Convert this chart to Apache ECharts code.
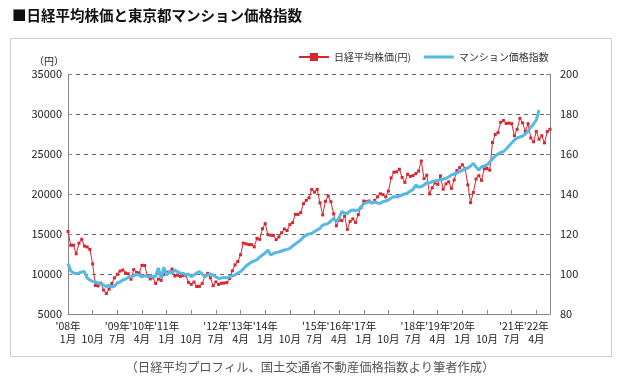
<!DOCTYPE html>
<html><head><meta charset="utf-8">
<script src="https://cdn.jsdelivr.net/npm/echarts@6/dist/echarts.min.js"></script>
<style>html,body{margin:0;padding:0;background:#fff}#c{width:620px;height:387px}</style>
</head><body><div id="c"></div>
<script>
var startYear = 2008;
var titleText = '■日経平均株価と東京都マンション価格指数';
var sourceText = '（日経平均プロフィル、国土交通省不動産価格指数より筆者作成）';
var seriesNames = ['日経平均株価(円)', 'マンション価格指数'];
var leftTicks = {min: 5000, max: 35000, interval: 5000};
var rightTicks = {min: 80, max: 200, interval: 20};
var labelEvery = 9;

var nikkei = [15308,
13592,13603,12526,13850,14339,13481,13377,13073,11260,8577,8512,8860,
7994,7568,8110,8828,9523,9958,10357,10493,10133,10035,9346,10546,
10198,10126,11090,11057,9769,9383,9537,8824,9369,9202,9937,10229,
10238,10624,9755,9850,9694,9816,9833,8955,8700,8988,8435,8455,
8803,9723,10084,9521,8543,9007,8695,8840,8870,8928,9446,10395,
11139,11559,12398,13861,13775,13677,13668,13389,14456,14328,15662,16291,
14915,14841,14828,14304,14632,15162,15621,15425,16174,16414,17460,17451,
17674,18798,19207,19520,20563,20236,20585,18890,17388,19083,19747,19034,
17518,16027,16759,16666,17235,15576,16569,16887,16450,17425,18308,19114,
19041,19119,18909,19197,19651,20033,19925,19646,20356,22012,22725,22765,
23098,22068,21454,22468,22202,22305,22554,22865,24120,21920,22351,20015,
20773,21385,21206,22259,20601,21276,21522,20704,21756,22927,23294,23657,
23205,21143,18917,20194,21878,22288,21710,23140,23185,22977,26434,27444,
27663,28966,29179,28813,28860,28792,27284,28090,29453,28893,27822,28792,
27002,26527,27821,26848,27280,26393,27802,28092];

var mansion = [105.3,101.5,100.5,100.2,100.5,101,101.2,98,97,96.3,96,95.5,
95,94.5,93.7,94.5,93.5,94,95.5,96,97,97.5,98.2,98.7,
99,99.8,99.5,98.5,99.2,98.7,99,98.5,99,103,97.8,103.3,
99.5,101,100.5,102,101,100.5,100.3,99.5,100,98.7,99.5,100.5,
101.2,100,98.7,99.5,100,99.5,98.5,97.8,98,98.3,98,98.7,
99,99.5,100.5,101.2,102.5,104,105,106,106.5,107.2,108.5,109.5,
110.5,112,109.5,110.2,110.8,111,111.5,112,112.3,112.8,114,115,
116,117,118.5,119.5,120,120.3,121.2,122,122.8,124.5,124.8,125.3,
126.5,127.8,126.2,128,131.2,130.5,130.3,131.5,132,131.8,132,133.5,
135.3,135.5,136.2,135.5,136,135.5,135.3,136.2,136.5,137,138,138.7,
138.5,139,139.5,140,140.5,141.5,142.3,144.5,143.5,143.7,144.5,145.7,
145.5,146.2,146.5,146.8,147,147.5,147.8,148.5,149.5,150,150.5,151.2,
151.8,152.5,153,154,155.3,153.5,152,153.7,154,154.5,156,157.5,
159,160,160.8,161.2,162.5,164,165.5,167,168,168.5,169,170,
171.5,173.5,175,177,182];

var categories = [];
for (var i = 0; i < nikkei.length; i++) {
  var y = startYear + Math.floor(i / 12), m = i % 12 + 1;
  categories.push(y + '-' + (m < 10 ? '0' : '') + m);
}
function every(idx) { return idx % labelEvery === 0; }

var FONT = '"Noto Sans CJK JP", "Noto Sans", sans-serif';
var chart = echarts.init(document.getElementById('c'), null, {renderer: 'canvas'});
chart.setOption({
  animation: false,
  textStyle: {fontFamily: FONT},
  grid: {left: 68, right: 70, top: 74, bottom: 73, containLabel: false},
  legend: {
    left: 298, top: 52, padding: 0, itemWidth: 30, itemHeight: 10, itemGap: 13,
    textStyle: {fontSize: 10, color: '#333', fontFamily: FONT},
    data: [
      {name: seriesNames[0]},
      {name: seriesNames[1], icon: 'path://M0,0L30,0L30,3L0,3Z'}
    ]
  },
  xAxis: {
    type: 'category', data: categories, boundaryGap: false,
    axisLine: {lineStyle: {color: '#888', width: 1}},
    axisTick: {inside: true, length: 4, interval: every, lineStyle: {color: '#888'}},
    axisLabel: {
      interval: 0, margin: 6, fontSize: 10.5, color: '#222', lineHeight: 13,
      hideOverlap: false, showMaxLabel: true, showMinLabel: true,
      formatter: function (v, idx) {
        if (idx % labelEvery !== 0) return '';
        var y = +v.slice(0, 4), m = +v.slice(5, 7);
        var ys = "'" + String(y).slice(2) + '年';
        return (m <= 9 ? ys : ' ') + '\n' + m + '月';
      }
    }
  },
  yAxis: [{
    type: 'value', min: leftTicks.min, max: leftTicks.max, interval: leftTicks.interval,
    axisLine: {show: true, lineStyle: {color: '#888'}},
    axisTick: {show: true, inside: true, length: 4, lineStyle: {color: '#888'}},
    axisLabel: {fontSize: 11, color: '#222', margin: 6, formatter: function (v) { return String(v); }},
    splitLine: {lineStyle: {color: '#666', type: [4, 4], width: 1}}
  }, {
    type: 'value', min: rightTicks.min, max: rightTicks.max, interval: rightTicks.interval,
    position: 'right',
    axisLine: {show: true, lineStyle: {color: '#888'}},
    axisTick: {show: true, inside: true, length: 4, lineStyle: {color: '#888'}},
    axisLabel: {fontSize: 11, color: '#222', margin: 10, formatter: function (v) { return String(v); }},
    splitLine: {show: false}
  }],
  series: [{
    name: seriesNames[0], type: 'line', data: nikkei, yAxisIndex: 0,
    symbol: 'rect', symbolSize: 3, showSymbol: true, showAllSymbol: true,
    lineStyle: {color: '#d7262e', width: 1},
    itemStyle: {color: '#d7262e'}, z: 2
  }, {
    name: seriesNames[1], type: 'line', data: mansion, yAxisIndex: 1,
    symbol: 'none', showSymbol: false,
    lineStyle: {color: '#55b9e3', width: 3},
    itemStyle: {color: '#55b9e3'}, z: 3
  }],
  graphic: [
    {type: 'rect', shape: {x: 10.5, y: 38.5, width: 601, height: 318}, style: {fill: 'none', stroke: '#cfcfcf', lineWidth: 1}},
    {type: 'text', left: 12, top: 8, style: {text: titleText, font: 'bold 14.5px ' + FONT, fill: '#111'}},
    {type: 'text', left: 34, top: 56, style: {text: '（円）', font: '10px ' + FONT, fill: '#222'}},
    {type: 'text', left: 'center', top: 361, style: {text: sourceText, font: '12.3px ' + FONT, fill: '#555'}}
  ]
});
</script></body></html>
